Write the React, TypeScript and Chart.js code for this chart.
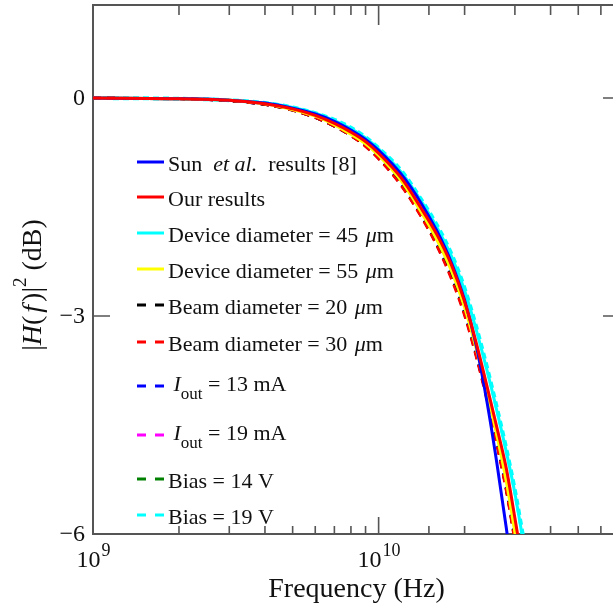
import { useEffect, useRef } from 'react';
import { Chart, registerables } from 'chart.js';

Chart.register(...registerables);

// ---------- data ----------
const FREQ_HZ = [1e9, 2e9, 3e9, 4e9, 5e9, 6e9, 7e9, 8e9, 9e9, 1e10, 1.2e10, 1.4e10, 1.6e10, 1.8e10, 2e10, 2.2e10, 2.4e10, 2.6e10, 2.8e10, 3e10, 3.2e10];

const SUN_ET_AL = [0, -0.01, -0.03, -0.07, -0.14, -0.22, -0.32, -0.44, -0.57, -0.72, -1.05, -1.43, -1.83, -2.27, -2.78, -3.42, -4.2, -5.05, -5.92, -6.8, -7.6];
const OUR_RESULTS = [0, -0.01, -0.03, -0.08, -0.15, -0.24, -0.35, -0.47, -0.6, -0.76, -1.1, -1.5, -1.88, -2.3, -2.8, -3.38, -3.98, -4.55, -5.1, -5.78, -6.45];
const DEVICE_45 = [0, -0.01, -0.03, -0.07, -0.13, -0.21, -0.31, -0.42, -0.55, -0.7, -1.02, -1.4, -1.78, -2.18, -2.65, -3.2, -3.76, -4.32, -4.87, -5.44, -6.08];
const DEVICE_55 = [0, -0.01, -0.03, -0.08, -0.16, -0.25, -0.37, -0.5, -0.63, -0.79, -1.14, -1.55, -1.95, -2.38, -2.88, -3.46, -4.06, -4.66, -5.28, -5.98, -6.7];
const BEAM_20 = [0, -0.01, -0.04, -0.09, -0.17, -0.27, -0.39, -0.52, -0.66, -0.83, -1.2, -1.61, -2.03, -2.48, -2.98, -3.56, -4.16, -4.78, -5.4, -6.1, -6.8];
const BEAM_30 = [0, -0.01, -0.04, -0.09, -0.17, -0.27, -0.39, -0.52, -0.67, -0.84, -1.21, -1.62, -2.04, -2.5, -3.0, -3.58, -4.18, -4.8, -5.42, -6.12, -6.82];
const IOUT_13 = [0, -0.01, -0.04, -0.09, -0.16, -0.26, -0.38, -0.51, -0.65, -0.82, -1.18, -1.59, -2.01, -2.46, -2.96, -3.54, -4.14, -4.76, -5.38, -6.07, -6.78];
const IOUT_19 = [0, -0.01, -0.04, -0.09, -0.17, -0.27, -0.39, -0.52, -0.66, -0.83, -1.2, -1.6, -2.02, -2.47, -2.97, -3.55, -4.15, -4.77, -5.39, -6.08, -6.79];
const BIAS_14 = [0, -0.01, -0.04, -0.09, -0.17, -0.27, -0.39, -0.52, -0.66, -0.83, -1.19, -1.6, -2.02, -2.47, -2.97, -3.55, -4.15, -4.77, -5.39, -6.09, -6.8];
const BIAS_19 = [0, -0.01, -0.03, -0.07, -0.13, -0.21, -0.3, -0.41, -0.54, -0.69, -1.0, -1.38, -1.75, -2.15, -2.62, -3.16, -3.72, -4.28, -4.83, -5.4, -6.02];

const X_MIN = 1e9;
const X_MAX = 7e10;
const Y_MIN = -6;
const Y_MAX = 1.28;
const Y_STEP = 3;

const X_LABEL_VALUES = [1e9, 1e10];
const X_LABEL_BASE = ['10', '10'];
const X_LABEL_EXP = ['9', '10'];

const X_TITLE = 'Frequency (Hz)';

type Seg = { t: string; it?: boolean; sub?: boolean; sup?: boolean; dx?: number };

const LEGEND_LABELS: Seg[][] = [
  [{ t: 'Sun  ' }, { t: 'et al.', it: true }, { t: '  results [8]' }],
  [{ t: 'Our results' }],
  [{ t: 'Device diameter = 45 ' }, { t: 'μ', it: true, dx: 2 }, { t: 'm' }],
  [{ t: 'Device diameter = 55 ' }, { t: 'μ', it: true, dx: 2 }, { t: 'm' }],
  [{ t: 'Beam diameter = 20 ' }, { t: 'μ', it: true, dx: 2 }, { t: 'm' }],
  [{ t: 'Beam diameter = 30 ' }, { t: 'μ', it: true, dx: 2 }, { t: 'm' }],
  [{ t: ' ' }, { t: 'I', it: true }, { t: 'out', sub: true }, { t: ' = 13 mA' }],
  [{ t: ' ' }, { t: 'I', it: true }, { t: 'out', sub: true }, { t: ' = 19 mA' }],
  [{ t: 'Bias = 14 V' }],
  [{ t: 'Bias = 19 V' }],
];

const Y_TITLE: Seg[] = [
  { t: '|' }, { t: 'H', it: true }, { t: '(' }, { t: 'f', it: true, dx: 3 }, { t: ')', dx: 3 }, { t: '|' },
  { t: '2', sup: true }, { t: ' (dB)' },
];

// ---------- styling ----------
const SERIF = "'Liberation Serif', 'Times New Roman', serif";
const font = (size: number, italic = false) => `${italic ? 'italic ' : ''}${size}px ${SERIF}`;
const AXIS_COLOR = '#555555';
const TEXT_COLOR = '#111111';

const CANVAS_W = 630;
const CANVAS_H = 607;
const PLOT_LEFT = 93;
const PLOT_TOP = 5;
const PLOT_RIGHT = 620;
const PLOT_BOTTOM = 534;

const SERIES = [
  { label: 'Sun et al. results [8]', values: SUN_ET_AL, color: '#0000ff', dash: [] as number[], width: 3, order: 1 },
  { label: 'Our results', values: OUR_RESULTS, color: '#ff0000', dash: [] as number[], width: 3, order: 0 },
  { label: 'Device diameter = 45 μm', values: DEVICE_45, color: '#00ffff', dash: [] as number[], width: 3, order: 8 },
  { label: 'Device diameter = 55 μm', values: DEVICE_55, color: '#ffff00', dash: [] as number[], width: 3, order: 2 },
  { label: 'Beam diameter = 20 μm', values: BEAM_20, color: '#000000', dash: [8, 6], width: 2.5, order: 4 },
  { label: 'Beam diameter = 30 μm', values: BEAM_30, color: '#ff0000', dash: [8, 6], width: 2.5, order: 3 },
  { label: 'Iout = 13 mA', values: IOUT_13, color: '#0000ff', dash: [8, 6], width: 2.5, order: 6 },
  { label: 'Iout = 19 mA', values: IOUT_19, color: '#ff00ff', dash: [8, 6], width: 2.5, order: 7 },
  { label: 'Bias = 14 V', values: BIAS_14, color: '#008000', dash: [8, 6], width: 2.5, order: 5 },
  { label: 'Bias = 19 V', values: BIAS_19, color: '#00ffff', dash: [6, 4], width: 4, order: 9 },
];

// legend layout (offsets from chart area top-left)
const LEG_SAMPLE_X0 = 44;
const LEG_SAMPLE_X1 = 71;
const LEG_TEXT_X = 75;
const LEG_BASELINES = [166, 201, 237, 273, 309, 346, 386, 435, 483, 519];
const LEG_FONT = 22;
const LEG_SUB_FONT = 17;

function drawSegs(ctx: CanvasRenderingContext2D, segs: Seg[], x: number, y: number, size: number, subSize: number) {
  let cx = x;
  for (const s of segs) {
    cx += s.dx || 0;
    const sz = s.sub || s.sup ? subSize : size;
    ctx.font = font(sz, !!s.it);
    const yy = y + (s.sub ? 8 : 0) - (s.sup ? 15 : 0);
    ctx.fillText(s.t, cx, yy);
    cx += ctx.measureText(s.t).width;
  }
  return cx - x;
}

function measureSegs(ctx: CanvasRenderingContext2D, segs: Seg[], size: number, subSize: number) {
  let w = 0;
  for (const s of segs) {
    w += s.dx || 0;
    ctx.font = font(s.sub || s.sup ? subSize : size, !!s.it);
    w += ctx.measureText(s.t).width;
  }
  return w;
}

const framePlugin = {
  id: 'frame',
  beforeDatasetsDraw(chart: any) {
    const { ctx, chartArea: a, scales } = chart;
    const x = scales.x;
    const y = scales.y;
    ctx.save();
    ctx.strokeStyle = AXIS_COLOR;
    ctx.lineWidth = 2;
    ctx.strokeRect(a.left, a.top, a.right - a.left, a.bottom - a.top);
    ctx.lineWidth = 1.6;
    ctx.beginPath();
    for (const t of x.ticks) {
      const px = x.getPixelForValue(t.value);
      if (px < a.left + 1 || px > a.right - 1) continue;
      const lg = Math.log10(t.value);
      const major = Math.abs(lg - Math.round(lg)) < 1e-6;
      ctx.moveTo(px, a.bottom);
      ctx.lineTo(px, a.bottom - (major ? 17 : 8));
      ctx.moveTo(px, a.top);
      ctx.lineTo(px, a.top + (major ? 20 : 10));
    }
    for (const t of y.ticks) {
      const py = y.getPixelForValue(t.value);
      if (py < a.top + 1 || py > a.bottom - 1) continue;
      ctx.moveTo(a.left, py);
      ctx.lineTo(a.left + 17, py);
      ctx.moveTo(a.right, py);
      ctx.lineTo(a.right - 17, py);
    }
    ctx.stroke();
    ctx.restore();
  },
  afterDatasetsDraw(chart: any) {
    const { ctx, chartArea: a, scales } = chart;
    const x = scales.x;
    const y = scales.y;
    ctx.save();
    ctx.fillStyle = TEXT_COLOR;
    ctx.textBaseline = 'alphabetic';

    // y tick labels
    ctx.font = font(24);
    ctx.textAlign = 'right';
    for (const t of y.ticks) {
      const py = y.getPixelForValue(t.value);
      const v = t.value;
      const s = v < 0 ? '\u2212' + Math.abs(v) : String(v);
      ctx.fillText(s, a.left - 8, py + 6.5);
    }
    ctx.textAlign = 'left';

    // x tick labels with superscripts
    X_LABEL_VALUES.forEach((v, i) => {
      const px = x.getPixelForValue(v);
      ctx.font = font(24);
      const wb = ctx.measureText(X_LABEL_BASE[i]).width;
      ctx.font = font(18);
      const we = ctx.measureText(X_LABEL_EXP[i]).width;
      const x0 = px - (wb + we) / 2;
      ctx.font = font(24);
      ctx.fillText(X_LABEL_BASE[i], x0, a.bottom + 33);
      ctx.font = font(18);
      ctx.fillText(X_LABEL_EXP[i], x0 + wb + 1, a.bottom + 22);
    });

    // x title
    ctx.font = font(28);
    ctx.textAlign = 'center';
    ctx.fillText(X_TITLE, (a.left + a.right) / 2, a.bottom + 63);
    ctx.textAlign = 'left';

    // y title (rotated)
    ctx.save();
    ctx.translate(41, 285);
    ctx.rotate(-Math.PI / 2);
    const tw = measureSegs(ctx, Y_TITLE, 28, 19);
    drawSegs(ctx, Y_TITLE, -tw / 2, 0, 28, 19);
    ctx.restore();

    // legend
    chart.data.datasets.forEach((ds: any, i: number) => {
      const segs = LEGEND_LABELS[i];
      const base = a.top + LEG_BASELINES[i];
      const hasSub = segs.some((s) => s.sub);
      const ly = base - (hasSub ? 5 : 9);
      ctx.save();
      ctx.strokeStyle = ds.borderColor;
      ctx.lineWidth = 3;
      ctx.setLineDash(ds.borderDash && ds.borderDash.length ? [9, 9] : []);
      ctx.beginPath();
      ctx.moveTo(a.left + LEG_SAMPLE_X0, ly);
      ctx.lineTo(a.left + LEG_SAMPLE_X1, ly);
      ctx.stroke();
      ctx.restore();
      ctx.fillStyle = TEXT_COLOR;
      drawSegs(ctx, segs, a.left + LEG_TEXT_X, base, LEG_FONT, LEG_SUB_FONT);
    });
    ctx.restore();
  },
};

export default function App() {
  const ref = useRef<HTMLCanvasElement | null>(null);

  useEffect(() => {
    if (!ref.current) return;
    const chart = new Chart(ref.current, {
      type: 'line',
      data: {
        datasets: SERIES.map((s) => ({
          label: s.label,
          data: FREQ_HZ.map((f, i) => ({ x: f, y: s.values[i] })),
          borderColor: s.color,
          backgroundColor: s.color,
          borderWidth: s.width,
          borderDash: s.dash,
          pointRadius: 0,
          fill: false,
          cubicInterpolationMode: 'monotone' as const,
          order: s.order,
        })),
      },
      options: {
        responsive: false,
        animation: false,
        devicePixelRatio: 1,
        layout: {
          padding: {
            left: PLOT_LEFT,
            top: PLOT_TOP,
            right: CANVAS_W - PLOT_RIGHT,
            bottom: CANVAS_H - PLOT_BOTTOM,
          },
        },
        plugins: {
          legend: { display: false },
          tooltip: { enabled: false },
        },
        scales: {
          x: {
            type: 'logarithmic',
            min: X_MIN,
            max: X_MAX,
            ticks: { display: false },
            grid: { display: false, drawTicks: false, tickLength: 0 },
            border: { display: false },
          },
          y: {
            type: 'linear',
            min: Y_MIN,
            max: Y_MAX,
            ticks: { display: false, stepSize: Y_STEP, includeBounds: false },
            grid: { display: false, drawTicks: false, tickLength: 0 },
            border: { display: false },
          },
        },
      },
      plugins: [framePlugin],
    });
    return () => chart.destroy();
  }, []);

  return (
    <div style={{ position: 'fixed', left: 0, top: 0, width: 613, height: 607, overflow: 'hidden', background: '#fff' }}>
      <canvas ref={ref} width={CANVAS_W} height={CANVAS_H} style={{ display: 'block', width: CANVAS_W, height: CANVAS_H }} />
    </div>
  );
}
